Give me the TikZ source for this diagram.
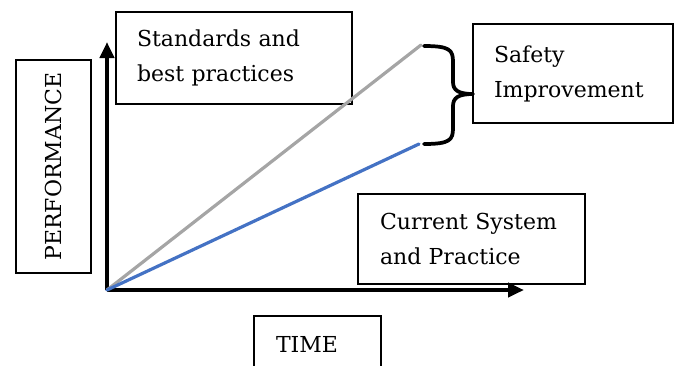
\documentclass[tikz,border=0pt]{standalone}
\usepackage{fontspec}
\setmainfont{DejaVu Serif}
\usetikzlibrary{arrows.meta}
\definecolor{stdgray}{HTML}{A5A5A5}
\definecolor{curblue}{HTML}{4472C4}
\tikzset{
  labelbox/.style={draw=black, line width=1.4pt, inner ysep=0pt, align=left,
    font=\fontsize{16.5}{26.25}\selectfont},
  axisline/.style={line width=3.2pt, -{Triangle[length=12pt,width=10.5pt]}},
  trendline/.style={line width=2.4pt, line cap=round},
  bracepath/.style={line width=2.8pt, line cap=round, line join=round}
}
\begin{document}
\begin{tikzpicture}[x=0.75pt,y=-0.75pt]
\useasboundingbox (0,0) rectangle (677,365);
\clip (0,0) rectangle (677,365);
% boxes
\node[labelbox, minimum width=236*0.75pt, minimum height=92*0.75pt, text width=194*0.75pt, inner xsep=21*0.75pt] (std) at (234,58) {Standards and\\best practices};
\node[labelbox, minimum width=200*0.75pt, minimum height=99*0.75pt, text width=158*0.75pt, inner xsep=21*0.75pt] (safe) at (573,73.5) {Safety\\Improvement};
\node[labelbox, minimum width=227*0.75pt, minimum height=90*0.75pt, text width=183*0.75pt, inner xsep=22*0.75pt] (cur) at (471.5,239) {Current System\\and Practice};
\node[labelbox, minimum width=127*0.75pt, minimum height=56*0.75pt, text width=83*0.75pt, inner xsep=22*0.75pt] (time) at (317.5,344) {TIME};
\node[labelbox, rotate=90, align=center, minimum width=213*0.75pt, minimum height=75*0.75pt] (perf) at (53.5,166.5) {PERFORMANCE};
% axes
\coordinate (o) at (107,290);
\coordinate (ytip) at (107,42);
\coordinate (xtip) at (524,290);
\draw[axisline] (o) -- (ytip);
\draw[axisline] (o) -- (xtip);
% trend lines
\coordinate (gend) at (421,45);
\coordinate (bend) at (419,144);
\draw[trendline, stdgray] (o) -- (gend);
\draw[trendline, curblue] (o) -- (bend);
% brace
\coordinate (btop) at (424,46);
\coordinate (bbot) at (424,144);
\coordinate (btip) at (473,94);
\draw[bracepath] (btop) .. controls (450,46) and (453,50) .. (453,62) -- (453,82)
  .. controls (453,90) and (458,94) .. (btip)
  .. controls (458,94) and (453,98) .. (453,106) -- (453,128)
  .. controls (453,140) and (450,144) .. (bbot);
\end{tikzpicture}
\end{document}
